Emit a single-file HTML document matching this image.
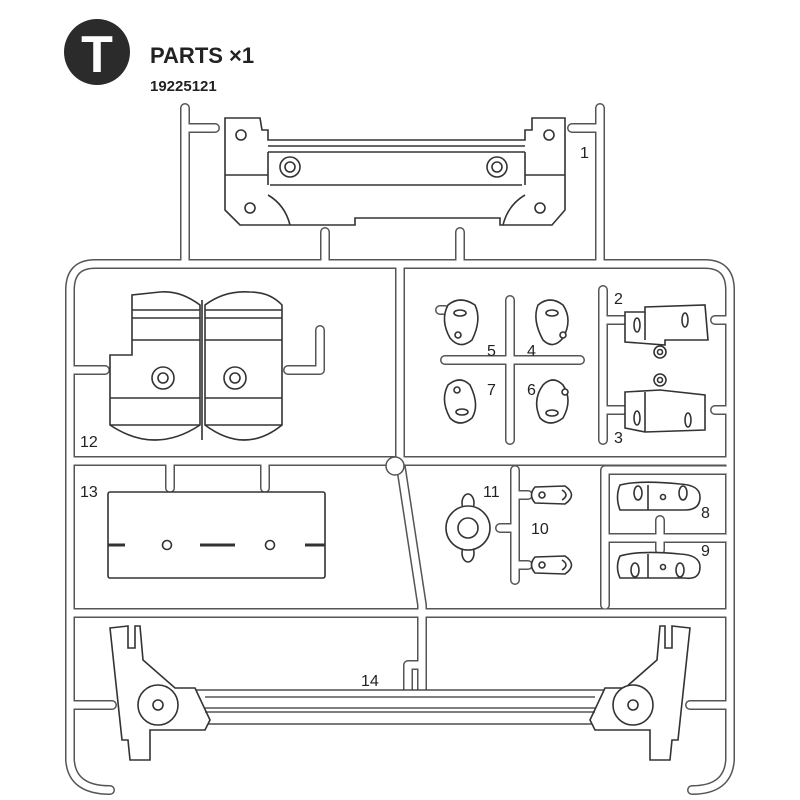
<!DOCTYPE html>
<html><head><meta charset="utf-8"><style>
html,body{margin:0;padding:0;background:#fff}
svg{display:block}
text{font-family:"Liberation Sans",sans-serif;fill:#222}
</style></head><body>
<svg width="800" height="800" viewBox="0 0 800 800" xmlns="http://www.w3.org/2000/svg">
<!-- header -->
<circle cx="97" cy="52" r="33" fill="#2b2b2b"/>
<text x="97" y="72" font-size="52" font-weight="bold" text-anchor="middle" style="fill:#fff">T</text>
<text x="150" y="63" font-size="22" font-weight="bold">PARTS ×1</text>
<text x="150" y="91" font-size="15" font-weight="bold">19225121</text>

<!-- runners -->
<g fill="none" stroke-linecap="round" stroke-linejoin="round">
<g stroke="#555" stroke-width="10">
 <path d="M110 790 Q72 790 70 760 L70 290 Q70 264 95 264 L705 264 Q730 264 730 290 L730 760 Q728 790 692 790"/>
 <path d="M185 264 L185 108 M600 264 L600 108 M185 128 L215 128 M600 128 L572 128"/>
 <path d="M325 264 L325 232 M460 264 L460 232"/>
 <path d="M70 461 L730 461 M70 613 L730 613"/>
 <path d="M400 264 L400 461 L422 605 L422 690 M422 665 L408 665 L408 690"/>
 <path d="M70 370 L105 370 M288 370 L320 370 L320 330 M70 705 L112 705 M730 705 L690 705"/>
 <path d="M170 461 L170 488 M265 461 L265 488"/>
 <path d="M510 300 L510 440 M445 360 L580 360 M440 310 L445 310"/>
 <path d="M603 290 L603 440 M603 320 L625 320 M603 410 L625 410 M715 320 L730 320 M715 410 L730 410"/>
 <path d="M515 470 L515 580 M515 495 L528 495 M515 528 L500 528 M515 565 L528 565"/>
 <path d="M605 470 L605 605 M605 538 L725 538 M605 470 L725 470 M660 520 L660 538 M660 538 L660 550"/>
</g>
<g stroke="#fff" stroke-width="7">
 <path d="M110 790 Q72 790 70 760 L70 290 Q70 264 95 264 L705 264 Q730 264 730 290 L730 760 Q728 790 692 790"/>
 <path d="M185 264 L185 108 M600 264 L600 108 M185 128 L215 128 M600 128 L572 128"/>
 <path d="M325 264 L325 232 M460 264 L460 232"/>
 <path d="M70 461 L730 461 M70 613 L730 613"/>
 <path d="M400 264 L400 461 L422 605 L422 690 M422 665 L408 665 L408 690"/>
 <path d="M70 370 L105 370 M288 370 L320 370 L320 330 M70 705 L112 705 M730 705 L690 705"/>
 <path d="M170 461 L170 488 M265 461 L265 488"/>
 <path d="M510 300 L510 440 M445 360 L580 360 M440 310 L445 310"/>
 <path d="M603 290 L603 440 M603 320 L625 320 M603 410 L625 410 M715 320 L730 320 M715 410 L730 410"/>
 <path d="M515 470 L515 580 M515 495 L528 495 M515 528 L500 528 M515 565 L528 565"/>
 <path d="M605 470 L605 605 M605 538 L725 538 M605 470 L725 470 M660 520 L660 538 M660 538 L660 550"/>
</g>
<circle cx="395" cy="466" r="9" fill="#fff" stroke="#555" stroke-width="1.5"/>
</g>

<g fill="#fff" stroke="#333" stroke-width="1.6">
<!-- part 1 -->
<path d="M225 118 L260 118 L262 130 L268 130 L268 140 L525 140 L525 130 L532 130 L532 118 L565 118 L565 210 L552 225 L500 225 L500 218 L355 218 L355 225 L240 225 L225 210 Z"/>
<path d="M268 146 L525 146 M268 152 L525 152 M268 152 L268 185 M525 152 L525 185 M270 185 L522 185 M225 175 L268 175 M525 175 L565 175 M268 195 Q285 205 290 225 M525 195 Q508 205 503 225" fill="none"/>
<circle cx="290" cy="167" r="10"/><circle cx="290" cy="167" r="5"/>
<circle cx="497" cy="167" r="10"/><circle cx="497" cy="167" r="5"/>
<circle cx="241" cy="135" r="5"/><circle cx="549" cy="135" r="5"/>
<circle cx="250" cy="208" r="5"/><circle cx="540" cy="208" r="5"/>

<!-- part 12 -->
<path d="M132 295 L132 355 L110 355 L110 425 Q155 455 200 425 L200 305 Q180 290 160 292 Z"/>
<path d="M205 305 Q225 290 250 292 Q270 292 282 305 L282 425 Q245 455 205 425 Z"/>
<path d="M132 310 L200 310 M132 318 L200 318 M132 340 L200 340 M205 310 L282 310 M205 318 L282 318 M205 340 L282 340 M110 398 L200 398 M205 398 L282 398 M110 425 L200 425 M205 425 L282 425 M202 300 L202 440" fill="none"/>
<circle cx="163" cy="378" r="11"/><circle cx="163" cy="378" r="5"/>
<circle cx="235" cy="378" r="11"/><circle cx="235" cy="378" r="5"/>

<!-- part 13 -->
<rect x="108" y="492" width="217" height="86" rx="2"/>
<path d="M108 545 L125 545 M200 545 L235 545 M305 545 L325 545" fill="none" stroke-width="3"/>
<circle cx="167" cy="545" r="4.5"/><circle cx="270" cy="545" r="4.5"/>

<!-- parts 4-7 -->
<path d="M448 305 Q460 295 475 305 Q482 320 472 340 Q460 350 450 338 Q440 320 448 305 Z"/>
<ellipse cx="460" cy="313" rx="6" ry="3"/><circle cx="458" cy="335" r="3"/>
<path d="M538 305 Q550 295 563 305 Q573 320 563 338 Q553 350 543 340 Q532 320 538 305 Z"/>
<ellipse cx="552" cy="313" rx="6" ry="3"/><circle cx="563" cy="335" r="3"/>
<path d="M448 385 Q460 375 470 385 Q480 405 472 418 Q460 428 450 418 Q440 400 448 385 Z"/>
<circle cx="457" cy="390" r="3"/><ellipse cx="462" cy="412" rx="6" ry="3"/>
<path d="M543 385 Q553 375 563 385 Q573 400 563 418 Q550 428 540 418 Q532 400 543 385 Z"/>
<circle cx="565" cy="392" r="3"/><ellipse cx="552" cy="413" rx="6" ry="3"/>

<!-- parts 2,3 -->
<path d="M625 312 L645 312 L645 307 L705 305 L708 340 L665 340 L665 345 L625 342 Z"/>
<path d="M645 312 L645 340" fill="none"/>
<ellipse cx="637" cy="325" rx="3" ry="7"/><ellipse cx="685" cy="320" rx="3" ry="7"/>
<circle cx="660" cy="352" r="6"/><circle cx="660" cy="352" r="2.5"/>
<path d="M625 392 L660 390 L705 395 L705 430 L645 432 L625 428 Z"/>
<path d="M645 392 L645 432" fill="none"/>
<ellipse cx="637" cy="418" rx="3" ry="7"/><ellipse cx="688" cy="420" rx="3" ry="7"/>
<circle cx="660" cy="380" r="6"/><circle cx="660" cy="380" r="2.5"/>

<!-- part 11 -->
<ellipse cx="468" cy="503" rx="6" ry="9"/><ellipse cx="468" cy="553" rx="6" ry="9"/>
<circle cx="468" cy="528" r="22"/><circle cx="468" cy="528" r="10"/>

<!-- part 10 -->
<path d="M535 487 L565 486 Q578 495 565 504 L535 503 Q528 495 535 487 Z"/><circle cx="542" cy="495" r="3"/><path d="M562 490 Q570 495 562 500" fill="none"/>
<path d="M535 557 L565 556 Q578 565 565 574 L535 573 Q528 565 535 557 Z"/><circle cx="542" cy="565" r="3"/><path d="M562 560 Q570 565 562 570" fill="none"/>

<!-- parts 8,9 -->
<path d="M620 485 Q640 480 680 484 Q700 485 700 497 Q700 510 685 510 L620 510 Q615 497 620 485 Z"/>
<path d="M648 485 L648 510" fill="none"/><ellipse cx="638" cy="493" rx="4" ry="7"/><ellipse cx="683" cy="493" rx="4" ry="7"/><circle cx="663" cy="497" r="2.5"/>
<path d="M620 556 Q640 550 680 554 Q700 555 700 567 Q700 580 685 578 L620 578 Q615 567 620 556 Z"/>
<path d="M648 554 L648 578" fill="none"/><ellipse cx="635" cy="570" rx="4" ry="7"/><ellipse cx="680" cy="570" rx="4" ry="7"/><circle cx="663" cy="567" r="2.5"/>

<!-- part 14 -->
<rect x="195" y="690" width="410" height="34" stroke-width="1.3"/>
<path d="M110 628 L128 626 L128 648 L135 648 L135 626 L140 626 L143 660 L175 688 L195 688 L210 720 L205 730 L150 730 L150 760 L130 760 L128 740 L122 740 Z"/>
<path d="M690 628 L672 626 L672 648 L665 648 L665 626 L660 626 L657 660 L625 688 L605 688 L590 720 L595 730 L650 730 L650 760 L670 760 L672 740 L678 740 Z"/>
<path d="M205 697 L595 697 M205 708 L595 708 M205 712 L595 712" fill="none" stroke-width="1.3"/>
<circle cx="158" cy="705" r="20"/><circle cx="158" cy="705" r="5"/>
<circle cx="633" cy="705" r="20"/><circle cx="633" cy="705" r="5"/>
</g>

<!-- labels -->
<g font-size="16">
<text x="580" y="158">1</text>
<text x="614" y="304">2</text>
<text x="614" y="443">3</text>
<text x="527" y="356">4</text>
<text x="487" y="356">5</text>
<text x="527" y="395">6</text>
<text x="487" y="395">7</text>
<text x="701" y="518">8</text>
<text x="701" y="556">9</text>
<text x="531" y="534">10</text>
<text x="483" y="497">11</text>
<text x="80" y="447">12</text>
<text x="80" y="497">13</text>
<text x="361" y="686">14</text>
</g>
</svg>
</body></html>
